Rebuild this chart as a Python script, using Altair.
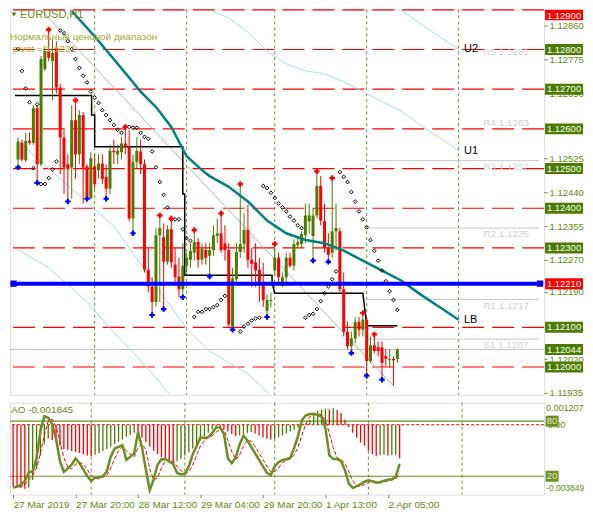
import altair as alt
import pandas as pd

# ---------------- values ----------------
open_ = [1.12523,1.12565,1.12521,1.12570,1.12565,1.12652,1.12511,1.12751,1.12796,1.12771,
1.12803,1.12704,1.12578,1.12511,1.12503,1.12622,1.12536,1.12635,1.12506,1.12426,
1.12506,1.12496,1.12513,1.12479,1.12449,1.12545,1.12536,1.12541,1.12563,1.12555,
1.12374,1.12516,1.12543,1.12511,1.12245,1.12203,1.12164,1.12332,1.12327,1.12265,
1.12347,1.12258,1.12228,1.12196,1.12255,1.12270,1.12288,1.12315,1.12270,1.12295,
1.12280,1.12295,1.12330,1.12337,1.12312,1.12295,1.12102,1.12221,1.12290,1.12310,
1.12345,1.12270,1.12263,1.12245,1.12206,1.12141,1.12166,1.12243,1.12275,1.12208,
1.12226,1.12275,1.12255,1.12307,1.12310,1.12332,1.12367,1.12330,1.12382,1.12456,
1.12367,1.12300,1.12288,1.12342,1.12342,1.12196,1.12089,1.12052,1.12072,1.12114,
1.12094,1.12119,1.12015,1.12055,1.12050,1.12050,1.12027,1.12017,1.12020,1.12020]
high_ = [1.12578,1.12573,1.12590,1.12590,1.12660,1.12660,1.12784,1.12808,1.12850,1.12826,
1.12821,1.12714,1.12598,1.12536,1.12660,1.12672,1.12647,1.12642,1.12511,1.12541,
1.12536,1.12536,1.12536,1.12511,1.12560,1.12573,1.12560,1.12580,1.12605,1.12598,
1.12536,1.12580,1.12573,1.12523,1.12300,1.12226,1.12350,1.12382,1.12362,1.12357,
1.12374,1.12300,1.12275,1.12312,1.12288,1.12312,1.12345,1.12325,1.12312,1.12312,
1.12312,1.12357,1.12374,1.12387,1.12357,1.12312,1.12250,1.12312,1.12461,1.12387,
1.12409,1.12300,1.12312,1.12275,1.12263,1.12183,1.12188,1.12310,1.12288,1.12238,
1.12288,1.12288,1.12322,1.12325,1.12342,1.12412,1.12412,1.12399,1.12493,1.12481,
1.12412,1.12337,1.12476,1.12412,1.12350,1.12238,1.12114,1.12089,1.12126,1.12126,
1.12136,1.12126,1.12077,1.12082,1.12064,1.12064,1.12045,1.12045,1.12027,1.12047]
low_ = [1.12503,1.12518,1.12516,1.12560,1.12560,1.12464,1.12506,1.12746,1.12771,1.12672,
1.12689,1.12486,1.12436,1.12417,1.12424,1.12474,1.12511,1.12412,1.12424,1.12422,
1.12449,1.12474,1.12461,1.12424,1.12436,1.12511,1.12511,1.12523,1.12536,1.12367,
1.12337,1.12498,1.12486,1.12238,1.12188,1.12131,1.12151,1.12164,1.12146,1.12258,
1.12250,1.12213,1.12176,1.12176,1.12238,1.12250,1.12268,1.12250,1.12258,1.12258,
1.12228,1.12280,1.12312,1.12288,1.12268,1.12102,1.12094,1.12208,1.12275,1.12288,
1.12250,1.12201,1.12201,1.12164,1.12151,1.12126,1.12151,1.12233,1.12208,1.12201,
1.12213,1.12250,1.12243,1.12298,1.12300,1.12312,1.12337,1.12268,1.12374,1.12357,
1.12288,1.12265,1.12275,1.12293,1.12188,1.12077,1.12045,1.12035,1.12060,1.12077,
1.12077,1.11978,1.12010,1.12035,1.12027,1.11968,1.12002,1.11998,1.11953,1.12010]
close_ = [1.12568,1.12523,1.12570,1.12565,1.12652,1.12511,1.12776,1.12796,1.12779,1.12791,
1.12704,1.12578,1.12503,1.12498,1.12622,1.12536,1.12635,1.12503,1.12426,1.12526,
1.12461,1.12513,1.12474,1.12449,1.12545,1.12541,1.12545,1.12563,1.12553,1.12374,
1.12516,1.12545,1.12511,1.12245,1.12203,1.12164,1.12332,1.12350,1.12265,1.12347,
1.12263,1.12226,1.12196,1.12255,1.12275,1.12293,1.12315,1.12270,1.12298,1.12275,
1.12295,1.12332,1.12337,1.12295,1.12295,1.12107,1.12223,1.12290,1.12310,1.12345,
1.12270,1.12260,1.12243,1.12206,1.12169,1.12169,1.12169,1.12275,1.12226,1.12226,
1.12275,1.12255,1.12310,1.12315,1.12335,1.12382,1.12382,1.12382,1.12456,1.12369,
1.12300,1.12283,1.12342,1.12350,1.12196,1.12089,1.12052,1.12072,1.12114,1.12094,
1.12119,1.12015,1.12055,1.12040,1.12040,1.12010,1.12020,1.12020,1.12017,1.12044]

up_fractal_bars = [8, 15, 28, 37, 40, 46, 53, 58, 67, 78, 82, 90, 93]
down_fractal_bars = [0, 5, 13, 18, 23, 30, 35, 38, 43, 50, 56, 65, 77, 81, 87, 91, 95]

sar_bars = list(range(0, 55)) + list(range(58, 100))
sar_price = [1.12801,1.12746,1.12702,1.12667,1.12501,1.12662,1.12461,1.12461,1.12476,1.12498,
1.12518,1.12848,1.12841,1.12821,1.12801,1.12776,1.12754,1.12734,1.12717,1.12694,
1.12679,1.12665,1.12647,1.12635,1.12622,1.12610,1.12598,1.12590,1.12605,1.12605,
1.12603,1.12603,1.12590,1.12580,1.12575,1.12543,1.12503,1.12466,1.12434,1.12402,
1.12372,1.12372,1.12372,1.12347,1.12325,1.12318,1.12126,1.12139,1.12139,1.12146,
1.12146,1.12151,1.12156,1.12169,1.12179,
1.12089,1.12102,1.12109,1.12117,1.12122,1.12124,1.12456,1.12451,1.12439,1.12426,
1.12412,1.12402,1.12392,1.12379,1.12369,1.12357,1.12350,1.12124,1.12131,1.12134,
1.12146,1.12166,1.12186,1.12203,1.12221,1.12241,1.12491,1.12479,1.12466,1.12441,
1.12417,1.12392,1.12372,1.12352,1.12320,1.12293,1.12268,1.12243,1.12216,1.12191,
1.12169,1.12144]

# teal moving average (enters the chart at its top edge)
ma_bars = [14, 20, 26, 32, 36, 40, 44, 48, 50, 55, 60, 65, 70, 75, 80, 85, 90, 95, 100, 105, 110, 115]
ma_price = [1.12897,1.12833,1.12764,1.12694,1.12655,1.12605,1.12531,1.12496,1.12481,1.12454,
1.12417,1.12369,1.12337,1.12320,1.12312,1.12293,1.12268,1.12243,1.12218,1.12183,1.12151,1.12119]

# pale envelope lines (from / to the chart edges)
env_a_bars = [1, 25, 39, 44, 50, 60, 65.5]
env_a_price = [1.12560, 1.12355, 1.12164, 1.12097, 1.12040, 1.11983, 1.11932]
env_b_bars = [0, 8, 18, 24, 30, 36, 39.4]
env_b_price = [1.12295, 1.12250, 1.12164, 1.12097, 1.12037, 1.11973, 1.11932]
env_u1_bars = [50, 55, 60, 65, 70, 75, 80, 85, 90, 95, 100, 105, 110, 115]
env_u1_price = [1.12899,1.12880,1.12843,1.12796,1.12764,1.12746,1.12739,1.12719,1.12694,1.12669,
1.12645,1.12610,1.12578,1.12545]
env_u2_bars = [100, 105, 110, 115]
env_u2_price = [1.12899, 1.12865, 1.12833, 1.12801]

trend_bars = [6.1, 98]
trend_price = [1.12899, 1.11952]

pivot_bars = [-0.8, 19.2, 19.2, 20, 20, 43, 43, 43.5, 43.5, 66.3, 66.3, 67, 90, 90.5, 91, 99]
pivot_price = [1.12684,1.12684,1.12635,1.12635,1.12555,1.12555,1.12436,1.12436,1.12231,1.12231,
1.12213,1.12186,1.12186,1.12146,1.12104,1.12104]

round_levels = [1.12900, 1.12800, 1.12700, 1.12600, 1.12500, 1.12400, 1.12300, 1.12100, 1.12000]
blue_level = 1.12210
bid_price = 1.12044
pivot_names = ["R5", "R4", "R3", "R2", "R1", "S1"]
pivot_values = [1.1281, 1.1263, 1.1252, 1.1235, 1.1217, 1.1207]
pivot_drawn = ["R3", "R2", "R1", "S1"]
pivot_day_start = 91
day_separators = [20, 44, 67, 91, 115]
price_ticks = [1.12860, 1.12775, 1.12690, 1.12525, 1.12440, 1.12355, 1.12270,
               1.12190, 1.12020, 1.11935]

ao_values = [-0.00340,-0.00345,-0.00349,-0.00353,-0.00345,-0.00304,-0.00242,-0.00170,-0.00107,-0.00077,
-0.00084,-0.00098,-0.00116,-0.00134,-0.00138,-0.00145,-0.00149,-0.00156,-0.00163,-0.00170,
-0.00174,-0.00166,-0.00156,-0.00143,-0.00134,-0.00120,-0.00107,-0.00095,-0.00081,-0.00066,
-0.00055,-0.00045,-0.00052,-0.00072,-0.00095,-0.00120,-0.00143,-0.00161,-0.00179,-0.00192,
-0.00202,-0.00209,-0.00202,-0.00188,-0.00170,-0.00152,-0.00131,-0.00109,-0.00088,-0.00066,
-0.00045,-0.00027,-0.00009,-0.00016,-0.00023,-0.00038,-0.00052,-0.00063,-0.00059,-0.00050,
-0.00045,-0.00041,-0.00048,-0.00059,-0.00070,-0.00077,-0.00081,-0.00077,-0.00070,-0.00059,
-0.00048,-0.00038,-0.00027,-0.00016,-0.00005,0.00009,0.00027,0.00054,0.00077,0.00084,
0.00088,0.00084,0.00091,0.00081,0.00063,0.00027,-0.00013,-0.00045,-0.00072,-0.00098,
-0.00116,-0.00143,-0.00161,-0.00174,-0.00168,-0.00165,-0.00170,-0.00168,-0.00166,-0.001845]
stoch_main = [7.8,8.5,10.9,14.8,24.0,25.4,39.5,69.5,85.4,83.7,
76.6,60.7,36.0,24.7,28.2,32.5,39.5,34.2,27.2,20.1,
14.8,18.4,19.1,19.8,25.4,41.3,50.1,51.9,53.7,37.8,
41.3,44.8,67.8,51.9,27.2,4.9,16.6,32.5,38.5,38.8,
36.0,33.2,23.6,21.9,22.6,30.7,43.8,52.9,62.5,61.4,
62.5,67.1,73.1,73.1,66.0,39.5,34.2,40.2,54.4,64.2,
58.9,51.9,44.8,37.8,30.7,23.6,21.2,30.7,35.3,37.8,
38.5,40.2,50.8,64.2,81.2,86.4,87.7,87.9,86.6,85.0,
72.3,42.6,38.7,38.7,36.3,26.7,11.9,7.1,9.2,11.3,
14.0,15.6,14.5,12.9,13.5,15.0,16.1,16.6,19.3,33.4]
stoch_signal = [9,8,9,11,16,21,29,45,65,80,
82,74,58,40,30,28,33,35,33,27,
21,18,17,19,21,29,39,48,52,48,
44,41,51,55,49,28,16,18,29,37,
38,36,31,26,23,25,32,43,53,59,
62,64,68,71,71,59,47,38,43,53,
59,58,52,45,38,31,25,25,29,35,
37,39,43,52,65,77,85,87,88,87,
81,67,51,40,38,34,25,15,9,9,
11,13,15,14,14,14,15,16,17,23]
stoch_levels = [80, 20]
ao_min, ao_max = -0.003849, 0.001207
ao_now = -0.001845
time_bars = [0, 16, 32, 48, 64, 80, 96]
time_labels = ["27 Mar 2019", "27 Mar 20:00", "28 Mar 12:00", "29 Mar 04:00",
               "29 Mar 20:00", "1 Apr 13:00", "2 Apr 05:00"]

# ---------------- styling ----------------
FONT = "Liberation Sans"
W, H_MAIN, H_LOW = 535, 386, 92
X_LEFT, X_RIGHT = -0.8, 136.0
OLIVE = "#6b8e23"
TXT = "#638a0e"
BULL = "#4a7c00"
RED = "#ff0000"
BLUE = "#0000ff"
BOX = "M-1,-0.2895L1,-0.2895L1,0.2895L-1,0.2895Z"     # 38 x 11 px at size 1444
BOX_TOP = "M-1,0L1,0L1,0.55L-1,0.55Z"
SMALL_BOX = "M-1,-0.846L1,-0.846L1,0.846L-1,0.846Z"  # 13 x 11 px at size 169
BX = W + 20

x_sc = alt.Scale(domain=[X_LEFT, X_RIGHT], nice=False, zero=False)
y_sc = alt.Scale(domain=[1.11930, 1.12901], nice=False, zero=False)
ao_sc = alt.Scale(domain=[ao_min, ao_max], nice=False, zero=False)
st_sc = alt.Scale(domain=[0, 100], nice=False, zero=False)

y_axis = alt.Axis(orient="right", values=price_ticks, format=".5f", labelColor=TXT,
                  tickColor=OLIVE, tickSize=3, domain=False, grid=False, title=None,
                  labelFontSize=9.5, labelPadding=2, labelOverlap=False, labelFont=FONT,
                  labelBound=False)


def X(f):
    return alt.X(f"{f}:Q", scale=x_sc, axis=None)


def Y(f):
    return alt.Y(f"{f}:Q", scale=y_sc, axis=y_axis)


col_scale = alt.Scale(domain=["bull", "bear"], range=[BULL, RED])

candles = pd.DataFrame({"k": list(range(len(open_))), "o": open_, "h": high_, "l": low_, "c": close_})
candles["col"] = ["bull" if c >= o else "bear" for o, c in zip(open_, close_)]

sep_df = pd.DataFrame({"k": day_separators})
lvl_df = pd.DataFrame({"p": round_levels})
piv_line_df = pd.DataFrame({
    "k0": [pivot_day_start] * len(pivot_drawn),
    "k1": [X_RIGHT] * len(pivot_drawn),
    "p": [pivot_values[pivot_names.index(n)] for n in pivot_drawn]})
piv_lab_df = pd.DataFrame({"k": [121.4] * len(pivot_names), "p": pivot_values,
                           "t": [f"{n} {v:.4f}" for n, v in zip(pivot_names, pivot_values)]})
env_df = pd.concat([
    pd.DataFrame({"k": env_a_bars, "p": env_a_price, "n": "a"}),
    pd.DataFrame({"k": env_b_bars, "p": env_b_price, "n": "b"}),
    pd.DataFrame({"k": env_u1_bars, "p": env_u1_price, "n": "u1"}),
    pd.DataFrame({"k": env_u2_bars, "p": env_u2_price, "n": "u2"}),
])
trend_df = pd.DataFrame({"k": trend_bars, "p": trend_price})
ma_df = pd.DataFrame({"k": ma_bars, "p": ma_price})
pivot_df = pd.DataFrame({"k": pivot_bars, "p": pivot_price, "i": list(range(len(pivot_bars)))})
sar_df = pd.DataFrame({"k": sar_bars, "p": sar_price})
upf_df = pd.DataFrame({"k": up_fractal_bars, "p": [high_[i] for i in up_fractal_bars]})
dnf_df = pd.DataFrame({"k": down_fractal_bars, "p": [low_[i] for i in down_fractal_bars]})
ulab_df = pd.DataFrame({"k": [116.4, 116.4, 116.4], "p": [env_u2_price[-1], env_u1_price[-1], ma_price[-1]],
                        "t": ["U2", "U1", "LB"]})

box_df = pd.DataFrame({"p": round_levels[1:] + [blue_level, bid_price],
                       "kind": ["lvl"] * (len(round_levels) - 1) + ["blue", "bid"]})
box_df["t"] = [f"{p:.5f}" for p in box_df["p"]]
top_df = pd.DataFrame({"p": [round_levels[0]], "t": [f"{round_levels[0]:.5f}"]})
blue_df = pd.DataFrame({"p": [blue_level]})
bid_df = pd.DataFrame({"p": [bid_price]})

layers = [
    alt.Chart(sep_df).mark_rule(color=OLIVE, strokeWidth=1, strokeDash=[3, 3]).encode(x=X("k")),
    alt.Chart(lvl_df).mark_rule(color=RED, strokeWidth=1.2, strokeDash=[22, 8]).encode(y=Y("p")),
    alt.Chart(piv_line_df).mark_rule(color="#c8c8c8", strokeWidth=1).encode(
        x=X("k0"), x2="k1:Q", y=Y("p")),
    alt.Chart(bid_df).mark_rule(color="#c0c0c0", strokeWidth=1).encode(y=Y("p")),
    alt.Chart(env_df).mark_line(color="#a8dce6", strokeWidth=1, clip=True).encode(
        x=X("k"), y=Y("p"), detail="n:N"),
    alt.Chart(trend_df).mark_line(color="#b4b4b4", strokeWidth=1, clip=True).encode(x=X("k"), y=Y("p")),
    alt.Chart(pivot_df).mark_line(color="black", strokeWidth=1.5, clip=True).encode(
        x=X("k"), y=Y("p"), order=alt.Order("i:Q")),
    alt.Chart(candles).mark_rule(strokeWidth=1, clip=True).encode(
        x=X("k"), y=Y("l"), y2="h:Q", color=alt.Color("col:N", scale=col_scale, legend=None)),
    alt.Chart(candles).mark_bar(size=3, clip=True).encode(
        x=X("k"), y=Y("o"), y2="c:Q", color=alt.Color("col:N", scale=col_scale, legend=None)),
    alt.Chart(ma_df).mark_line(color="#008080", strokeWidth=2.5, clip=True).encode(x=X("k"), y=Y("p")),
    alt.Chart(blue_df).mark_rule(color=BLUE, strokeWidth=4).encode(
        x=alt.value(2), x2=alt.value(W - 2), y=Y("p")),
    alt.Chart(blue_df).mark_point(shape="square", filled=True, size=40, color=BLUE, opacity=1).encode(
        x=alt.value(3.5), y=Y("p")),
    alt.Chart(blue_df).mark_point(shape="square", filled=True, size=40, color=BLUE, opacity=1).encode(
        x=alt.value(W - 4), y=Y("p")),
    alt.Chart(sar_df).mark_point(shape="diamond", size=14, filled=False, color="black",
                                 strokeWidth=1, opacity=1, clip=True).encode(x=X("k"), y=Y("p")),
    alt.Chart(upf_df).mark_point(shape="cross", size=30, filled=True, color=RED, opacity=1,
                                 clip=True).encode(x=X("k"), y=Y("p")),
    alt.Chart(dnf_df).mark_point(shape="cross", size=30, filled=True, color=BLUE, opacity=1,
                                 clip=True).encode(x=X("k"), y=Y("p")),
    alt.Chart(piv_lab_df).mark_text(color="#d0d0d0", fontSize=10, font=FONT, align="left",
                                    baseline="top", dy=1).encode(x=X("k"), y=Y("p"), text="t:N"),
    alt.Chart(ulab_df).mark_text(color="black", fontSize=11, font=FONT, align="left",
                                 baseline="middle").encode(x=X("k"), y=Y("p"), text="t:N"),
    # right-hand price boxes
    alt.Chart(box_df).mark_point(shape=BOX, size=1444, filled=True, opacity=1, strokeWidth=0).encode(
        x=alt.value(BX), y=Y("p"),
        color=alt.Color("kind:N", scale=alt.Scale(domain=["lvl", "blue", "bid"], range=[RED, BLUE, OLIVE]),
                        legend=None)),
    alt.Chart(box_df).mark_text(color="white", fontSize=9.5, font=FONT, align="center",
                                baseline="middle").encode(x=alt.value(BX), y=Y("p"), text="t:N"),
    alt.Chart(top_df).mark_point(shape=BOX_TOP, size=1444, filled=True, opacity=1, strokeWidth=0,
                                 color=RED).encode(x=alt.value(BX), y=Y("p")),
    alt.Chart(top_df).mark_text(color="white", fontSize=9.5, font=FONT, align="center",
                                baseline="top", dy=1).encode(x=alt.value(BX), y=Y("p"), text="t:N"),
]

title_df = pd.DataFrame({"t": ["EURUSD,H1"]})
note_df = pd.DataFrame({"t": ["Нормальный ценовой диапазон", f"pivot = {blue_level:.4f}"],
                        "x": [0, 3], "y": [28, 40]})
layers += [
    alt.Chart(title_df).mark_point(shape="triangle-down", filled=True, size=22, color="#5a7a10",
                                   opacity=1).encode(x=alt.value(4), y=alt.value(5)),
    alt.Chart(title_df).mark_text(color="#6b8e23", fontSize=11, font=FONT, align="left",
                                  baseline="top").encode(x=alt.value(10), y=alt.value(0), text="t:N"),
    alt.Chart(note_df).mark_text(color="#a8a830", fontSize=10, font=FONT, align="left",
                                 baseline="middle").encode(x=alt.X("x:Q", scale=None),
                                                           y=alt.Y("y:Q", scale=None), text="t:N"),
]

main = alt.layer(*layers).properties(width=W, height=H_MAIN)

# ---------------- lower panel: AO + stochastic ----------------
lab_expr = "".join(f"datum.value == {k} ? '{t}' : " for k, t in zip(time_bars, time_labels)) + "''"
x_axis_low = alt.Axis(values=time_bars, labelExpr=lab_expr, labelAlign="left", labelColor=TXT,
                      tickColor=OLIVE, tickSize=3, domain=False, grid=False, title=None,
                      labelFontSize=10, labelPadding=2, labelFlush=False, labelOverlap=False,
                      labelFont=FONT, labelBound=False)


def XL(f):
    return alt.X(f"{f}:Q", scale=x_sc, axis=x_axis_low)


ao_df = pd.DataFrame({"k": list(range(len(ao_values))), "ao": ao_values, "zero": 0.0})
ao_df["col"] = ["bear" if i == 0 or v < ao_values[i - 1] else "bull" for i, v in enumerate(ao_values)]
st_df = pd.DataFrame({"k": list(range(len(stoch_main))), "m": stoch_main, "s": stoch_signal})
stl_df = pd.DataFrame({"v": stoch_levels, "t": [str(v) for v in stoch_levels]})
zero_df = pd.DataFrame({"z": [0.0]})
aolab_df = pd.DataFrame({"t": [f"AO {ao_now:.6f}"]})
aotop_df = pd.DataFrame({"v": [ao_max], "t": [f"{ao_max:.6f}"]})
aobot_df = pd.DataFrame({"v": [ao_min], "t": [f"{ao_min:.6f}"]})

low_layers = [
    alt.Chart(sep_df).mark_rule(color=OLIVE, strokeWidth=1, strokeDash=[3, 3]).encode(x=XL("k")),
    alt.Chart(stl_df).mark_rule(color=OLIVE, strokeWidth=1.2).encode(
        y=alt.Y("v:Q", scale=st_sc, axis=None)),
    alt.Chart(zero_df).mark_rule(color=RED, strokeWidth=1, strokeDash=[3, 2]).encode(
        y=alt.Y("z:Q", scale=ao_sc, axis=None)),
    alt.Chart(ao_df).mark_rule(strokeWidth=1.3).encode(
        x=XL("k"), y=alt.Y("zero:Q", scale=ao_sc, axis=None), y2="ao:Q",
        color=alt.Color("col:N", scale=col_scale, legend=None)),
    alt.Chart(st_df).mark_line(color=RED, strokeWidth=1, strokeDash=[4, 2], clip=True).encode(
        x=XL("k"), y=alt.Y("s:Q", scale=st_sc, axis=None)),
    alt.Chart(st_df).mark_line(color="#6b8e23", strokeWidth=2.5, clip=True).encode(
        x=XL("k"), y=alt.Y("m:Q", scale=st_sc, axis=None)),
    alt.Chart(aolab_df).mark_text(color=TXT, fontSize=10, font=FONT, align="left",
                                  baseline="middle").encode(x=alt.value(1), y=alt.value(7), text="t:N"),
    alt.Chart(aotop_df).mark_text(color=TXT, fontSize=9, font=FONT, align="left",
                                  baseline="top", dy=1).encode(
        x=alt.value(W + 2), y=alt.Y("v:Q", scale=ao_sc, axis=None), text="t:N"),
    alt.Chart(aobot_df).mark_text(color=TXT, fontSize=8.5, font=FONT, align="left",
                                  baseline="bottom", dy=-2).encode(
        x=alt.value(W + 2), y=alt.Y("v:Q", scale=ao_sc, axis=None), text="t:N"),
    alt.Chart(zero_df).mark_text(color=TXT, fontSize=9, font=FONT, align="left",
                                 baseline="middle", text="0.00").encode(
        x=alt.value(W + 4), y=alt.Y("z:Q", scale=ao_sc, axis=None)),
    alt.Chart(stl_df).mark_point(shape=SMALL_BOX, size=169, filled=True, opacity=1, strokeWidth=0,
                                 color=OLIVE).encode(x=alt.value(W + 8),
                                                     y=alt.Y("v:Q", scale=st_sc, axis=None)),
    alt.Chart(stl_df).mark_text(color="#e8ecc0", fontSize=9.5, font=FONT, align="center",
                                baseline="middle").encode(x=alt.value(W + 8),
                                                          y=alt.Y("v:Q", scale=st_sc, axis=None),
                                                          text="t:N"),
]

low = alt.layer(*low_layers).resolve_scale(y="independent").properties(width=W, height=H_LOW)

chart = alt.vconcat(main, low, spacing=3, padding=0).configure_view(
    stroke=OLIVE, strokeWidth=1).configure(background="white", font=FONT)

chart.save("out.html", embed_options={"renderer": "svg", "actions": False})
